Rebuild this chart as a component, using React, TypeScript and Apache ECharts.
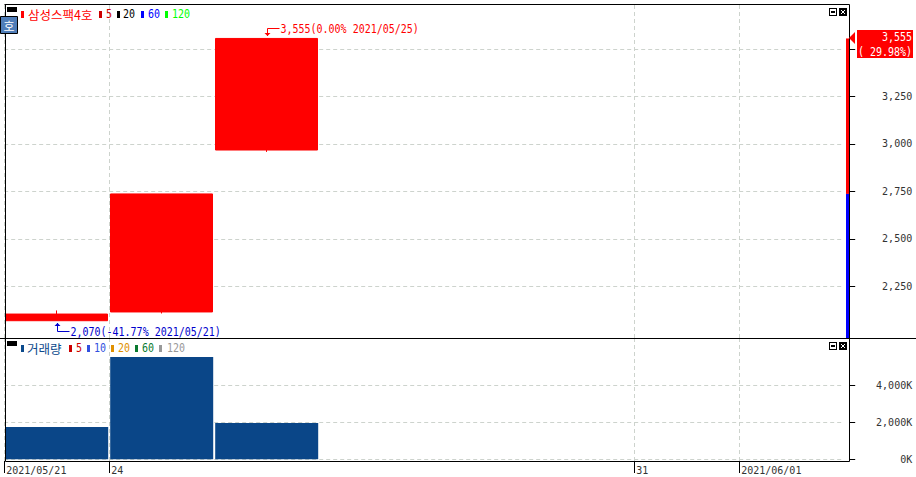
import React, { useEffect, useRef } from "react";
import * as echarts from "echarts";

const categories = ["2021/05/21", "24", "25", "26", "27", "28", "31", "2021/06/01"];
const tickLabels = ["2021/05/21", "24", "", "", "", "", "31", "2021/06/01", ""];
const visibleTicks = [0, 1, 6, 7];
// open, close, low, high
const candles = [
  [2070, 2105, 2070, 2124],
  [2116, 2737, 2108, 2737],
  [2968, 3555, 2958, 3555],
  ["-", "-", "-", "-"],
  ["-", "-", "-", "-"],
  ["-", "-", "-", "-"],
  ["-", "-", "-", "-"],
  ["-", "-", "-", "-"],
];
const volumes = [1755, 5560, 1973, "-", "-", "-", "-", "-"];
const priceTicks = [2250, 2500, 2750, 3000, 3250, 3500];
const priceLabels = [2250, 2500, 2750, 3000, 3250];
const volumeTicks = [0, 2000, 4000];
const priceMin = 1979;
const priceMax = 3731;
const volumeMin = -92;
const volumeMax = 6592;
const stripSegments = [
  { from: 3555, to: 2737, color: "#ff0000" },
  { from: 2737, to: priceMin, color: "#0000ff" },
];
const annotations = [
  { cat: 2, value: 3555, text: "3,555(0.00% 2021/05/25)", color: "#ff0000", dir: -1 },
  { cat: 0, value: 2070, text: "2,070(-41.77% 2021/05/21)", color: "#0000cc", dir: 1 },
];
const lastPrice = { value: 3555, label: "3,555", pct: "( 29.98%)" };
const priceLegend = [
  { text: "삼성스팩4호", color: "#ff0000", rect: 21, x: 28, cjk: true },
  { text: "5", color: "#cc0000", rect: 99, x: 106 },
  { text: "20", color: "#000000", rect: 117, x: 123 },
  { text: "60", color: "#0000ff", rect: 141, x: 148 },
  { text: "120", color: "#00ff00", rect: 165, x: 172 },
];
const volumeLegend = [
  { text: "거래량", color: "#0b4a8c", rect: 21, x: 27, cjk: true },
  { text: "5", color: "#cc0000", rect: 69, x: 76 },
  { text: "10", color: "#3050e0", rect: 87, x: 94 },
  { text: "20", color: "#e09000", rect: 111, x: 118 },
  { text: "60", color: "#0a7a30", rect: 135, x: 142 },
  { text: "120", color: "#999999", rect: 159, x: 167 },
];

const MONO = "'DejaVu Sans Mono', monospace";
const CJK = "'Noto Sans CJK KR', sans-serif";
const GRID_COLOR = "#cdd3cd";
const TALL = 1.3;

function fmt(v: number) {
  return v.toLocaleString("en-US");
}

function legendGraphics(items: any[], top: number) {
  const out: any[] = [];
  out.push({ type: "rect", shape: { x: 7, y: top - 7, width: 10, height: 5 }, style: { fill: "#000" }, z: 20 });
  items.forEach((it) => {
    out.push({ type: "rect", shape: { x: it.rect, y: top - 3, width: 3, height: 7 }, style: { fill: it.color }, z: 20 });
    out.push({
      type: "text",
      x: it.x,
      y: top,
      scaleY: it.cjk ? 1 : TALL,
      z: 20,
      style: {
        text: it.text,
        fill: it.color,
        font: it.cjk ? `12.5px ${CJK}` : `10px ${MONO}`,
        textVerticalAlign: "middle",
      },
    });
  });
  return out;
}

function buttons(y: number) {
  return [
    { type: "rect", shape: { x: 829, y, width: 8, height: 8 }, style: { fill: "#000" }, z: 20 },
    { type: "rect", shape: { x: 830, y: y + 1, width: 6, height: 6 }, style: { fill: "#fff" }, z: 20 },
    { type: "rect", shape: { x: 831, y: y + 3, width: 4, height: 2 }, style: { fill: "#000" }, z: 20 },
    { type: "rect", shape: { x: 839, y, width: 8, height: 8 }, style: { fill: "#000" }, z: 20 },
    { type: "line", shape: { x1: 841, y1: y + 2, x2: 845, y2: y + 6 }, style: { stroke: "#fff", lineWidth: 1 }, z: 21 },
    { type: "line", shape: { x1: 845, y1: y + 2, x2: 841, y2: y + 6 }, style: { stroke: "#fff", lineWidth: 1 }, z: 21 },
  ];
}

const black = { stroke: "#000", lineWidth: 1 };
const frame = [
  { type: "line", shape: { x1: 4.5, y1: 4.5, x2: 849.5, y2: 4.5 }, style: black, z: 15 },
  { type: "line", shape: { x1: 5.5, y1: 4.5, x2: 5.5, y2: 461.5 }, style: black, z: 15 },
  { type: "line", shape: { x1: 849.5, y1: 4.5, x2: 849.5, y2: 461.5 }, style: black, z: 15 },
  { type: "line", shape: { x1: 0, y1: 338.5, x2: 916, y2: 338.5 }, style: black, z: 15 },
  { type: "line", shape: { x1: 5.5, y1: 461.5, x2: 849.5, y2: 461.5 }, style: black, z: 15 },
];

const badge = [
  { type: "rect", shape: { x: 0.5, y: 16.5, width: 17, height: 17 }, style: { fill: "#4f7db8", stroke: "#000", lineWidth: 1 }, z: 20 },
  {
    type: "text",
    x: 9,
    y: 25,
    z: 21,
    style: { text: "호", fill: "#fff", font: `12px ${CJK}`, textAlign: "center", textVerticalAlign: "middle" },
  },
];

function dashed(values: number[]) {
  return {
    silent: true,
    symbol: "none",
    z: 1,
    label: { show: false },
    lineStyle: { color: GRID_COLOR, type: [4, 3], width: 1 },
    data: values.map((v) => ({ yAxis: v })),
  };
}

function guideAxis(gridIndex: number, withLabels: boolean) {
  return {
    type: "category",
    gridIndex,
    data: tickLabels,
    boundaryGap: false,
    position: "bottom",
    axisLine: { show: false },
    axisTick: {
      show: withLabels,
      length: 12,
      lineStyle: { color: "#000" },
      interval: (i: number) => visibleTicks.includes(i),
    },
    axisLabel: {
      show: withLabels,
      interval: (i: number) => visibleTicks.includes(i),
      align: "left",
      verticalAlign: "top",
      margin: 4,
      padding: [0, 0, 0, 2],
      color: "#333",
      fontFamily: MONO,
      fontSize: 10,
      showMinLabel: true,
      showMaxLabel: true,
      hideOverlap: false,
    },
    splitLine: {
      show: true,
      interval: (i: number) => visibleTicks.includes(i),
      lineStyle: { color: GRID_COLOR, type: [4, 3], width: 1 },
    },
  };
}

function dataAxis(gridIndex: number) {
  return {
    type: "category",
    gridIndex,
    data: categories,
    boundaryGap: true,
    show: false,
  };
}

function valueAxis(gridIndex: number, min: number, max: number, ticks: number[], labels: number[], formatter: (v: number) => string) {
  return {
    type: "value",
    gridIndex,
    position: "right",
    min,
    max,
    offset: 5,
    scale: true,
    axisLine: { show: false },
    axisTick: { show: true, length: 6, customValues: ticks, lineStyle: { color: "#000" } },
    axisLabel: {
      customValues: labels,
      formatter,
      align: "right",
      margin: 63,
      color: "#333",
      fontFamily: MONO,
      fontSize: 10,
    },
    splitLine: { show: false },
  };
}

export default function App() {
  const ref = useRef<HTMLDivElement>(null);
  useEffect(() => {
    const chart = echarts.init(ref.current!, undefined, { renderer: "svg" });
    chart.setOption({
      animation: false,
      backgroundColor: "#fff",
      grid: [
        { left: 4.2, top: 5, width: 840, height: 333 },
        { left: 4.2, top: 338, width: 840, height: 123 },
      ],
      xAxis: [dataAxis(0), guideAxis(0, false), dataAxis(1), guideAxis(1, true)],
      yAxis: [
        valueAxis(0, priceMin, priceMax, priceTicks, priceLabels, (v) => fmt(v)),
        valueAxis(1, volumeMin, volumeMax, volumeTicks, volumeTicks, (v) => `${fmt(v)}K`),
      ],
      series: [
        {
          type: "candlestick",
          xAxisIndex: 0,
          yAxisIndex: 0,
          barWidth: 102,
          z: 2,
          data: candles,
          itemStyle: { color: "#ff0000", borderColor: "#ff0000", color0: "#0000ff", borderColor0: "#0000ff", borderWidth: 1 },
          markLine: dashed(priceTicks),
        },
        {
          type: "bar",
          xAxisIndex: 2,
          yAxisIndex: 1,
          barWidth: 103,
          z: 2,
          data: volumes,
          itemStyle: { color: "#0a4688" },
          markLine: dashed(volumeTicks),
        },
        {
          type: "custom",
          xAxisIndex: 0,
          yAxisIndex: 0,
          z: 6,
          clip: false,
          silent: true,
          data: stripSegments.map((s) => [0, s.from, s.to]),
          renderItem: (params: any, api: any) => {
            const s = stripSegments[params.dataIndex];
            const y1 = api.coord([0, s.from])[1];
            const y2 = api.coord([0, s.to])[1];
            return { type: "rect", shape: { x: 846, y: y1, width: 3, height: y2 - y1 }, style: { fill: s.color } };
          },
        },
        {
          type: "custom",
          xAxisIndex: 0,
          yAxisIndex: 0,
          z: 7,
          clip: false,
          silent: true,
          data: annotations.map((a) => [a.cat, a.value]),
          renderItem: (params: any, api: any) => {
            const a = annotations[params.dataIndex];
            const [px, py] = api.coord([a.cat, a.value]);
            const x = Math.round(px) + 0.5;
            const tipY = a.dir < 0 ? Math.round(py) - 2 : Math.round(py) + 2;
            const elbow = a.dir < 0 ? Math.round(py) - 9.5 : Math.round(py) + 10.5;
            return {
              type: "group",
              children: [
                {
                  type: "polyline",
                  shape: { points: [[x, tipY], [x, elbow], [x + 12, elbow]] },
                  style: { stroke: a.color, fill: "none", lineWidth: 1 },
                },
                {
                  type: "polygon",
                  shape: { points: [[x, tipY], [x - 3, tipY + a.dir * 3], [x + 3, tipY + a.dir * 3]] },
                  style: { fill: a.color },
                },
                {
                  type: "text",
                  x: x + 13,
                  y: elbow,
                  scaleY: TALL,
                  style: { text: a.text, fill: a.color, font: `10px ${MONO}`, textVerticalAlign: "middle" },
                },
              ],
            };
          },
        },
        {
          type: "custom",
          xAxisIndex: 0,
          yAxisIndex: 0,
          z: 30,
          clip: false,
          silent: true,
          data: [[0, lastPrice.value]],
          renderItem: (_: any, api: any) => {
            const y = Math.round(api.coord([0, lastPrice.value])[1]);
            return {
              type: "group",
              children: [
                { type: "polygon", shape: { points: [[849, y], [855, y - 6], [855, y + 6]] }, style: { fill: "#ff0000" } },
                { type: "rect", shape: { x: 857, y: y - 8, width: 56, height: 28 }, style: { fill: "#ff0000" } },
                { type: "text", x: 912, y: y - 1, scaleY: TALL, style: { text: lastPrice.label, fill: "#fff", font: `10px ${MONO}`, textAlign: "right", textVerticalAlign: "middle" } },
                { type: "text", x: 912, y: y + 14, scaleY: TALL, style: { text: lastPrice.pct, fill: "#fff", font: `10px ${MONO}`, textAlign: "right", textVerticalAlign: "middle" } },
              ],
            };
          },
        },
      ],
      graphic: [
        ...frame,
        ...badge,
        ...legendGraphics(priceLegend, 14),
        ...legendGraphics(volumeLegend, 348),
        ...buttons(8),
        ...buttons(342),
      ],
    });
    return () => chart.dispose();
  }, []);
  return <div ref={ref} style={{ position: "absolute", left: 0, top: 0, width: 916, height: 477 }} />;
}
